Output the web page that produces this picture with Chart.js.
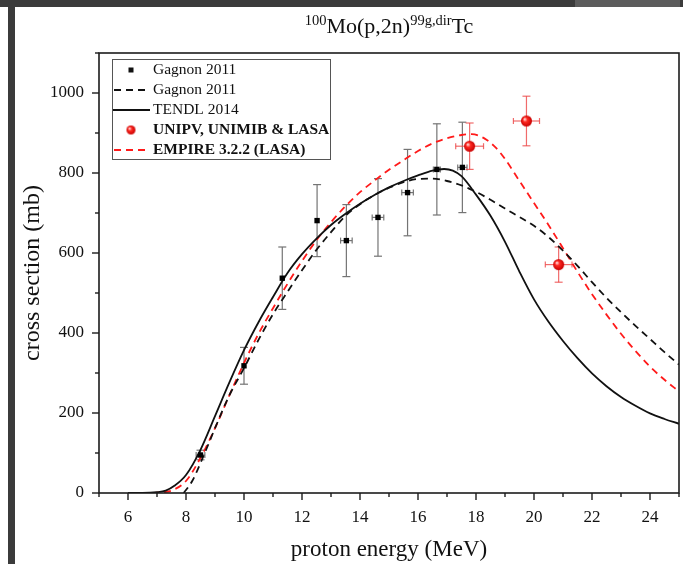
<!DOCTYPE html>
<html lang="en">
  <head>
    <meta charset="UTF-8" />
    <title>100Mo(p,2n)99g,dirTc</title>
    <script src="https://cdn.jsdelivr.net/npm/chart.js"></script>
    <style>
      html, body { margin: 0; padding: 0; background: #fff; }
      .janela { position: relative; width: 683px; height: 564px; overflow: hidden; background: #fff; }
      #grafico { position: absolute; left: 0; top: 0; }
      .barra-topo { position: absolute; left: 0; top: 0; width: 683px; height: 7px; background: #3b3b3b; }
      .barra-topo-dir { position: absolute; left: 575px; top: 0; width: 105px; height: 7px; background: #5c5c5c; }
      .barra-esq { position: absolute; left: 8px; top: 0; width: 7px; height: 564px; background: #3b3b3b; }
      .titulo {
        position: absolute; left: 99px; width: 580px; top: 13px;
        text-align: center; font-family: "Liberation Serif", serif;
        font-size: 22px; line-height: 26px; color: #111;
      }
      .titulo sup { font-size: 14.5px; line-height: 0; vertical-align: 8px; }
    </style>
  </head>
  <body>
    <div class="janela">
      <canvas id="grafico" width="683" height="564"></canvas>
      <div class="barra-topo"></div>
      <div class="barra-topo-dir"></div>
      <div class="barra-esq"></div>
      <div class="titulo"><sup>100</sup>Mo(p,2n)<sup>99g,dir</sup>Tc</div>
    </div>

    <script>
      // Gagnon 2011 - pontos experimentais
      const gagnonE = [8.5, 10.0, 11.32, 12.52, 13.53, 14.62, 15.64, 16.65, 17.53];
      const gagnonXS = [95, 318, 537, 681, 631, 689, 751, 809, 814];
      const gagnonErr = [12, 46, 78, 90, 90, 97, 108, 114, 113];
      const gagnonEErr = [0.15, 0, 0, 0, 0.2, 0.2, 0.2, 0.12, 0.16];

      // UNIPV, UNIMIB & LASA
      const unipvE = [17.78, 19.74, 20.85];
      const unipvXS = [867, 930, 571];
      const unipvErr = [58, 62, 44];
      const unipvEErr = [0.48, 0.45, 0.46];

      // Gagnon 2011 - curva tracejada
      const gagnonFitE = [7.92, 8.2, 8.6, 9.0, 9.5, 10.0, 10.5, 11.0, 11.5, 12.0, 12.5, 13.0, 13.5, 14.0, 14.5, 15.0, 15.5, 16.0, 16.5, 17.0, 17.5, 18.0, 18.5, 19.0, 19.5, 20.0, 20.5, 21.0, 21.5, 22.0, 22.5, 23.0, 23.5, 24.0, 24.5, 25.0];
      const gagnonFitXS = [0, 28, 92, 162, 245, 312, 383, 447, 503, 557, 608, 652, 693, 722, 745, 763, 777, 785, 786, 780, 769, 753, 733, 711, 690, 668, 640, 606, 568, 527, 488, 452, 418, 385, 352, 321];

      // TENDL 2014
      const tendlE = [6.0, 6.5, 7.0, 7.3, 7.6, 8.0, 8.5, 9.0, 9.5, 10.0, 10.5, 11.0, 11.5, 12.0, 12.5, 13.0, 13.5, 14.0, 14.5, 15.0, 15.5, 16.0, 16.5, 16.9, 17.2, 17.5, 18.0, 18.5, 19.0, 19.5, 20.0, 20.5, 21.0, 21.5, 22.0, 22.5, 23.0, 23.5, 24.0, 24.5, 25.0];
      const tendlXS = [0, 0, 2, 6, 18, 45, 108, 192, 277, 357, 427, 490, 550, 597, 636, 670, 698, 723, 745, 764, 780, 794, 806, 810, 806, 792, 746, 693, 628, 553, 484, 428, 380, 337, 299, 267, 240, 218, 199, 185, 173];

      // EMPIRE 3.2.2 (LASA)
      const empireE = [6.0, 6.5, 7.0, 7.5, 8.0, 8.5, 9.0, 9.5, 10.0, 10.5, 11.0, 11.5, 12.0, 12.5, 13.0, 13.5, 14.0, 14.5, 15.0, 15.5, 16.0, 16.5, 17.0, 17.5, 17.85, 18.3, 18.7, 19.0, 19.5, 20.0, 20.5, 21.0, 21.5, 22.0, 22.5, 23.0, 23.5, 24.0, 24.5, 25.0];
      const empireXS = [0, 0, 1, 6, 30, 88, 162, 245, 325, 398, 462, 523, 580, 632, 677, 717, 752, 781, 808, 832, 855, 874, 887, 895, 897, 886, 862, 835, 780, 725, 670, 612, 553, 497, 446, 398, 355, 316, 283, 254];

      // eixos
      const xTicks = [5, 6, 7, 8, 9, 10, 11, 12, 13, 14, 15, 16, 17, 18, 19, 20, 21, 22, 23, 24, 25];
      const yTicks = [0, 100, 200, 300, 400, 500, 600, 700, 800, 900, 1000, 1100];

      const fonte = "'Liberation Serif', 'Times New Roman', serif";

      function pares(xs, ys) {
        return xs.map((v, i) => ({ x: v, y: ys[i] }));
      }

      // bolinha vermelha com brilho
      function criarEsfera(r) {
        const c = document.createElement("canvas");
        c.width = c.height = r * 2 + 2;
        const g = c.getContext("2d");
        const cx = r + 1;
        const grad = g.createRadialGradient(cx - r * 0.35, cx - r * 0.35, 0.5, cx, cx, r);
        grad.addColorStop(0, "#ffd6d6");
        grad.addColorStop(0.35, "#ff2a22");
        grad.addColorStop(1, "#c80000");
        g.fillStyle = grad;
        g.beginPath();
        g.arc(cx, cx, r, 0, Math.PI * 2);
        g.fill();
        return c;
      }
      const esfera = criarEsfera(5.5);
      const esferaLegenda = criarEsfera(4.5);

      function linha(ctx, x1, y1, x2, y2) {
        ctx.beginPath();
        ctx.moveTo(x1, y1);
        ctx.lineTo(x2, y2);
        ctx.stroke();
      }

      function barras(ctx, x, y, E, S, dS, dE, cor) {
        ctx.strokeStyle = cor;
        ctx.lineWidth = 1.2;
        for (let i = 0; i < E.length; i++) {
          const px = x.getPixelForValue(E[i]);
          const py = y.getPixelForValue(S[i]);
          if (dS[i]) {
            const t = y.getPixelForValue(S[i] + dS[i]);
            const b = y.getPixelForValue(S[i] - dS[i]);
            linha(ctx, px, t, px, b);
            linha(ctx, px - 4, t, px + 4, t);
            linha(ctx, px - 4, b, px + 4, b);
          }
          if (dE[i]) {
            const l = x.getPixelForValue(E[i] - dE[i]);
            const r = x.getPixelForValue(E[i] + dE[i]);
            linha(ctx, l, py, r, py);
            linha(ctx, l, py - 3, l, py + 3);
            linha(ctx, r, py - 3, r, py + 3);
          }
        }
      }

      const errosPlugin = {
        id: "erros",
        beforeDatasetsDraw(chart) {
          const { ctx, scales: { x, y } } = chart;
          ctx.save();
          barras(ctx, x, y, gagnonE, gagnonXS, gagnonErr, gagnonEErr, "#747474");
          barras(ctx, x, y, unipvE, unipvXS, unipvErr, unipvEErr, "rgba(236,70,70,0.8)");
          ctx.restore();
        },
      };

      const molduraPlugin = {
        id: "moldura",
        afterDraw(chart) {
          const { ctx, chartArea: a, scales: { x, y } } = chart;
          ctx.save();
          ctx.strokeStyle = "#1c1c1c";
          ctx.lineWidth = 1.6;
          ctx.strokeRect(a.left, a.top, a.right - a.left, a.bottom - a.top);
          ctx.lineWidth = 1.4;
          xTicks.forEach(function (v) {
            const px = x.getPixelForValue(v);
            linha(ctx, px, a.bottom, px, a.bottom + (v % 2 === 0 ? 7 : 4));
          });
          yTicks.forEach(function (v) {
            const py = y.getPixelForValue(v);
            linha(ctx, a.left, py, a.left - (v % 200 === 0 ? 7 : 4), py);
          });

          // legenda
          const lx = 112.5, ly = 59.5, lw = 218, lh = 100;
          ctx.fillStyle = "#fff";
          ctx.fillRect(lx, ly, lw, lh);
          ctx.strokeStyle = "#555";
          ctx.lineWidth = 1;
          ctx.strokeRect(lx, ly, lw, lh);

          const tx = 153;
          ctx.textBaseline = "middle";
          ctx.textAlign = "left";
          ctx.fillStyle = "#111";

          ctx.fillRect(128.5, 67.5, 5, 5);
          ctx.font = "15.5px " + fonte;
          ctx.fillText("Gagnon 2011", tx, 70);

          ctx.strokeStyle = "#111";
          ctx.lineWidth = 1.8;
          ctx.setLineDash([7, 5]);
          linha(ctx, 114, 90, 150, 90);
          ctx.setLineDash([]);
          ctx.fillText("Gagnon 2011", tx, 90);

          linha(ctx, 113, 110, 150, 110);
          ctx.fillText("TENDL 2014", tx, 110);

          ctx.drawImage(esferaLegenda, 131 - 5.5, 130 - 5.5);
          ctx.font = "bold 15.5px " + fonte;
          ctx.fillText("UNIPV, UNIMIB & LASA", tx, 130);

          ctx.strokeStyle = "#ff1a1a";
          ctx.setLineDash([7, 5]);
          linha(ctx, 114, 150, 150, 150);
          ctx.setLineDash([]);
          ctx.fillText("EMPIRE 3.2.2 (LASA)", tx, 150);
          ctx.restore();
        },
      };

      const dados = {
        datasets: [
          {
            label: "Gagnon 2011",
            data: pares(gagnonE, gagnonXS),
            pointStyle: "rect",
            pointRadius: 3.8,
            backgroundColor: "#000",
            borderColor: "#000",
            borderWidth: 0,
            showLine: false,
          },
          {
            label: "UNIPV, UNIMIB & LASA",
            data: pares(unipvE, unipvXS),
            pointStyle: esfera,
            pointRadius: 6,
            showLine: false,
          },
          {
            label: "Gagnon 2011",
            data: pares(gagnonFitE, gagnonFitXS),
            showLine: true,
            pointRadius: 0,
            borderColor: "#111",
            borderWidth: 1.8,
            borderDash: [7, 5],
            cubicInterpolationMode: "monotone",
          },
          {
            label: "TENDL 2014",
            data: pares(tendlE, tendlXS),
            showLine: true,
            pointRadius: 0,
            borderColor: "#111",
            borderWidth: 1.8,
            cubicInterpolationMode: "monotone",
          },
          {
            label: "EMPIRE 3.2.2 (LASA)",
            data: pares(empireE, empireXS),
            showLine: true,
            pointRadius: 0,
            borderColor: "#ff1a1a",
            borderWidth: 1.8,
            borderDash: [7, 5],
            cubicInterpolationMode: "monotone",
          },
        ],
      };

      const config = {
        type: "scatter",
        data: dados,
        options: {
          responsive: false,
          animation: false,
          layout: { autoPadding: false, padding: { top: 53, right: 4, left: 0, bottom: 0 } },
          plugins: { legend: { display: false }, tooltip: { enabled: false } },
          scales: {
            x: {
              type: "linear",
              min: 5,
              max: 25,
              afterBuildTicks: function (s) { s.ticks = xTicks.map((v) => ({ value: v })); },
              afterFit: function (s) {
                s.height = 71;
                s.paddingLeft = 0;
                s.paddingRight = 0;
              },
              grid: { display: false, drawTicks: false },
              border: { display: false },
              ticks: {
                autoSkip: false,
                maxRotation: 0,
                padding: 14,
                color: "#111",
                font: { family: fonte, size: 17 },
                callback: (v) => (v % 2 === 0 ? v : ""),
              },
              title: {
                display: true,
                text: "proton energy (MeV)",
                color: "#111",
                font: { family: fonte, size: 23 },
                padding: { top: 0, bottom: 0 },
              },
            },
            y: {
              type: "linear",
              min: 0,
              max: 1100,
              afterBuildTicks: function (s) { s.ticks = yTicks.map((v) => ({ value: v })); },
              afterFit: function (s) {
                s.width = 99;
                s.paddingTop = 0;
                s.paddingBottom = 0;
              },
              grid: { display: false, drawTicks: false },
              border: { display: false },
              ticks: {
                autoSkip: false,
                padding: 15,
                color: "#111",
                font: { family: fonte, size: 17 },
                callback: (v) => (v % 200 === 0 && v <= 1000 ? v : ""),
              },
              title: {
                display: true,
                text: "cross section (mb)",
                color: "#111",
                font: { family: fonte, size: 24 },
                padding: { top: 18, bottom: 0 },
              },
            },
          },
        },
        plugins: [errosPlugin, molduraPlugin],
      };

      var myChart = new Chart(document.getElementById("grafico"), config);
    </script>
  </body>
</html>
